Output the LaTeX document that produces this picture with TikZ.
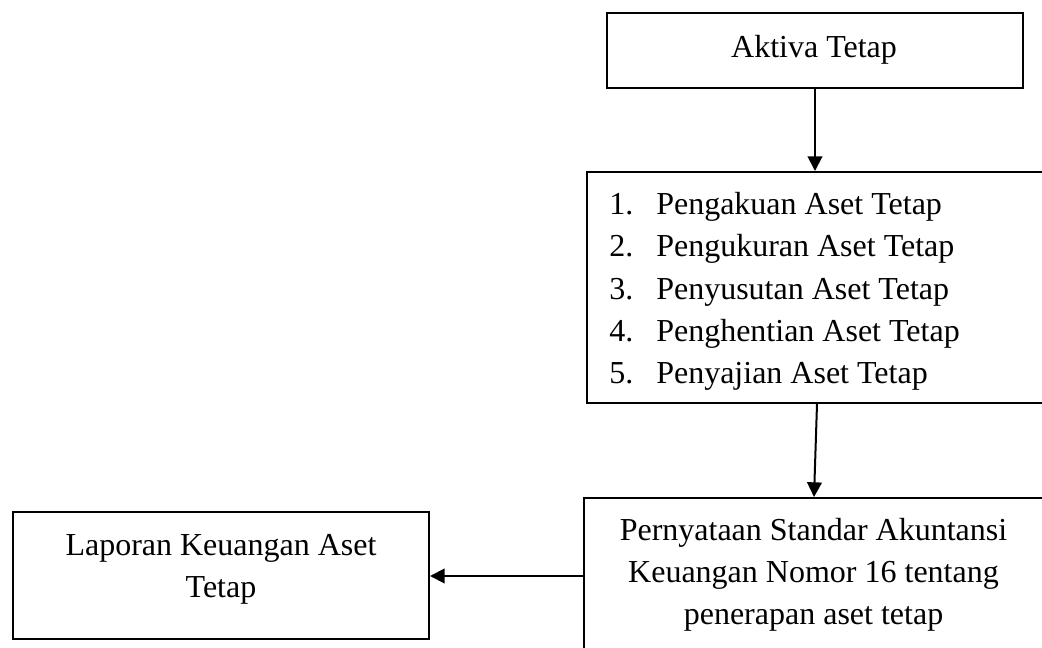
\documentclass[tikz,border=0pt]{standalone}
\usepackage{fontspec}
\setmainfont{Liberation Serif}
\usetikzlibrary{arrows.meta}
\begin{document}
\begin{tikzpicture}[x=0.75pt,y=-0.75pt,
  frame/.style={draw, line width=1.5pt, inner sep=0pt},
  txt/.style={inner sep=0pt, font=\fontsize{24pt}{31.7pt}\selectfont},
  flow/.style={line width=1.5pt, -{Triangle[length=11pt,width=11pt]}}]
\useasboundingbox (0,0) rectangle (1042,648);

% boxes
\node[frame, minimum width=312pt, minimum height=56.25pt] (aktiva) at (815,51) {};
\node[frame, minimum width=345pt, minimum height=173.25pt] (aspek) at (817,287.5) {};
\node[frame, minimum width=345pt, minimum height=117pt] (psak) at (814,576) {};
\node[frame, minimum width=312pt, minimum height=95.25pt] (laporan) at (221,575.5) {};

% texts
\node[txt] (aktivaT) at (814,50) {Aktiva Tetap};
\node[txt, align=left, anchor=west] (aspekT) at (609,291.5) {%
  \makebox[35.25pt][l]{1.}Pengakuan Aset Tetap\\
  \makebox[35.25pt][l]{2.}Pengukuran Aset Tetap\\
  \makebox[35.25pt][l]{3.}Penyusutan Aset Tetap\\
  \makebox[35.25pt][l]{4.}Penghentian Aset Tetap\\
  \makebox[35.25pt][l]{5.}Penyajian Aset Tetap};
\node[txt, align=center] (psakT) at (813.5,575) {Pernyataan Standar Akuntansi\\Keuangan Nomor 16 tentang\\penerapan aset tetap};
\node[txt, align=center] (laporanT) at (221,569.5) {Laporan Keuangan Aset\\Tetap};

% connectors
\draw[flow] (aktiva.south) -- (aktiva.south |- aspek.north);
\draw[flow] (aspek.south) -- (psak.north);
\draw[flow] (psak.west) -- (psak.west -| laporan.east);
\end{tikzpicture}
\end{document}
